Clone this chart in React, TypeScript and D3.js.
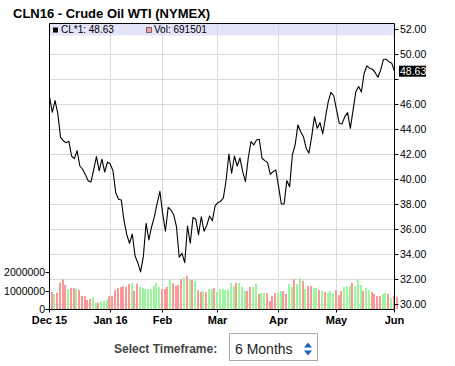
import React, { useRef, useEffect } from "react";
import * as d3 from "d3";

// month labels sit on the first trading day of each month (index into closes)
const monthLabels = ["Dec 15", "Jan 16", "Feb", "Mar", "Apr", "May", "Jun"];
const monthStarts = [0, 22, 41, 61, 83, 104, 125];

// daily settlement, CLN16
const closes = [
  46.6, 45.35, 46.28, 45.27, 43.35, 43.08, 42.92, 43.04, 41.86, 41.65,
  42.28, 41.06, 40.8, 40.37, 39.89, 39.78, 40.74, 41.81, 40.69, 41.6,
  40.58, 41.38, 41.22, 40.69, 38.93, 38.4, 38.35, 36.69, 35.58, 34.89,
  35.63, 33.87, 33.34, 32.6, 33.82, 36.49, 35.15, 36.21, 37.01, 38.08,
  39.04, 37.28, 35.85, 37.76, 37.55, 37.17, 36.21, 33.77, 34.09, 33.34,
  36.27, 34.89, 36.96, 36.81, 35.58, 37.01, 35.85, 36.33, 37.07, 36.69,
  37.87, 38.13, 38.24, 38.51, 39.94, 42.02, 40.48, 41.86, 41.06, 41.7,
  40.61, 39.81, 41.68, 43.0, 42.74, 43.14, 43.2, 41.68, 41.49, 41.33,
  40.4, 40.61, 40.74, 39.41, 38.03, 38.03, 39.89, 39.41, 41.94, 42.74,
  44.34, 43.8, 43.4, 42.48, 42.08, 43.4, 45.0, 44.07, 44.52, 43.62,
  44.95, 46.2, 46.95, 46.65, 45.54, 44.47, 44.42, 45.0, 45.32, 44.07,
  45.54, 47.0, 47.4, 46.97, 48.47, 49.05, 48.87, 48.79, 48.51, 48.15,
  48.73, 49.58, 49.58, 49.39, 49.27, 48.63,
];

const volumes = [
  950000, 840000, 890000, 1450000, 1640000, 1330000, 1110000, 1160000, 1160000, 1110000,
  1050000, 730000, 730000, 510000, 560000, 670000, 350000, 360000, 420000, 450000,
  510000, 730000, 730000, 1050000, 1160000, 1220000, 1270000, 1220000, 1380000, 1440000,
  1000000, 1400000, 1220000, 1160000, 1110000, 1110000, 1110000, 1270000, 1450000, 1220000,
  1110000, 1110000, 1220000, 1620000, 1420000, 1270000, 1330000, 1650000, 1760000, 1840000,
  1600000, 1600000, 1550000, 1050000, 950000, 1000000, 950000, 1110000, 1110000, 1160000,
  950000, 1110000, 1090000, 1050000, 1090000, 1440000, 1270000, 1440000, 1440000, 1220000,
  1000000, 1000000, 1220000, 1220000, 1380000, 840000, 890000, 890000, 890000, 450000,
  730000, 890000, 890000, 1000000, 1000000, 840000, 1380000, 1220000, 1650000, 1380000,
  1710000, 1550000, 1110000, 1270000, 1270000, 1160000, 1180000, 1050000, 1000000, 950000,
  890000, 1000000, 890000, 1050000, 780000, 1000000, 1220000, 1270000, 1270000, 1440000,
  1270000, 1620000, 1330000, 1000000, 1160000, 1050000, 950000, 840000, 730000, 730000,
  840000, 890000, 840000, 620000, 730000, 691501,
];

// bar colour per day: g = green, r = red
const volColors = (
  "rgrrrrgrrg" + "rrrrrggrgg" + "grrrrrrrrg" + "rrgggggggg" + "rrrgrrrrgr" +
  "grgrrgrggr" + "gggggggrgg" + "grrggrggrr" + "rrggrrggrg" + "grgrrggrgr" +
  "gggrrrgggr" + "gggrggrrrr" + "ggrgrr"
).split("");

const priceTicks = [30, 32, 34, 36, 38, 40, 42, 44, 46, 48, 50, 52];
const volTicks = [0, 1000000, 2000000];

const W = 455;
const H = 366;
const left = 49.5;
const right = 394.5;
const top = 23.5;
const bottom = 309.5;
const sans = "Arial, 'Liberation Sans', sans-serif";

const CrudeChart: React.FC = () => {
  const ref = useRef<SVGSVGElement | null>(null);

  useEffect(() => {
    const svg = d3.select(ref.current);
    svg.selectAll("*").remove();

    const x = d3.scaleLinear().domain([0, closes.length - 1]).range([left, right]);
    const y = d3.scaleLinear().domain([30, 52]).range([304.5, 29]);
    const yv = d3.scaleLinear().domain([0, 2000000]).range([309.3, 272.7]);
    const crisp = (v: number) => Math.round(v - 0.5) + 0.5;
    const last = closes[closes.length - 1];

    svg.append("rect").attr("width", W).attr("height", H).attr("fill", "#fff");

    // title
    svg
      .append("text")
      .attr("x", 13)
      .attr("y", 18)
      .attr("font-family", sans)
      .attr("font-weight", "bold")
      .attr("font-size", 13)
      .attr("fill", "#000")
      .text("CLN16 - Crude Oil WTI (NYMEX)");

    // legend band
    svg
      .append("rect")
      .attr("x", left)
      .attr("y", top)
      .attr("width", right - left)
      .attr("height", 12)
      .attr("fill", "#e3e3fa");

    // grid
    const grid = svg.append("g").attr("stroke", "#d9d9d9").attr("stroke-width", 1);
    grid
      .selectAll("line.h")
      .data(priceTicks.filter((t) => t < 52))
      .enter()
      .append("line")
      .attr("x1", left)
      .attr("x2", right)
      .attr("y1", (d) => crisp(y(d)))
      .attr("y2", (d) => crisp(y(d)));
    grid
      .selectAll("line.v")
      .data(monthStarts.slice(1, -1))
      .enter()
      .append("line")
      .attr("x1", (d) => crisp(x(d)))
      .attr("x2", (d) => crisp(x(d)))
      .attr("y1", top)
      .attr("y2", bottom);

    // volume bars
    svg
      .append("g")
      .selectAll("rect")
      .data(volumes)
      .enter()
      .append("rect")
      .attr("x", (d, i) => Math.round(x(i)) + 1)
      .attr("width", 2)
      .attr("y", (d) => yv(d))
      .attr("height", (d) => 309 - yv(d))
      .attr("fill", (d, i) => (volColors[i] === "g" ? "#9cf79c" : "#fb9999"));

    // price line
    const line = d3
      .line<number>()
      .x((d, i) => x(i))
      .y((d) => y(d));
    svg
      .append("path")
      .datum(closes)
      .attr("d", line)
      .attr("fill", "none")
      .attr("stroke", "#000")
      .attr("stroke-width", 1.1)
      .attr("stroke-linejoin", "round");

    // frame
    const frame = svg.append("g").attr("stroke", "#000").attr("stroke-width", 1);
    frame.append("line").attr("x1", left).attr("x2", right).attr("y1", top).attr("y2", top);
    frame.append("line").attr("x1", left).attr("x2", right).attr("y1", bottom).attr("y2", bottom);
    frame.append("line").attr("x1", left).attr("x2", left).attr("y1", top).attr("y2", bottom);
    frame.append("line").attr("x1", right).attr("x2", right).attr("y1", top).attr("y2", bottom);

    // right price axis; a label too close to the last-price box is hidden
    const ra = svg.append("g");
    priceTicks.forEach((t) => {
      const yy = crisp(y(t));
      ra.append("line").attr("x1", right).attr("x2", right + 4).attr("y1", yy).attr("y2", yy).attr("stroke", "#000");
      if (Math.abs(y(t) - y(last)) < 11) return;
      ra.append("text")
        .attr("x", 400)
        .attr("y", yy)
        .attr("dy", "0.36em")
        .attr("font-family", sans)
        .attr("font-size", 10.5)
        .attr("fill", "#000")
        .text(t.toFixed(2));
    });
    ra.append("rect").attr("x", 399).attr("y", y(last) - 5.5).attr("width", 27).attr("height", 11).attr("fill", "#000");
    ra.append("text")
      .attr("x", 400)
      .attr("y", y(last))
      .attr("dy", "0.36em")
      .attr("font-family", sans)
      .attr("font-size", 10.5)
      .attr("fill", "#fff")
      .text(last.toFixed(2));

    // left volume axis
    const la = svg.append("g");
    volTicks.forEach((t) => {
      const yy = crisp(yv(t));
      la.append("line").attr("x1", left - 4).attr("x2", left).attr("y1", yy).attr("y2", yy).attr("stroke", "#000");
      la.append("text")
        .attr("x", 45)
        .attr("y", yy)
        .attr("dy", "0.36em")
        .attr("text-anchor", "end")
        .attr("font-family", sans)
        .attr("font-size", 10.5)
        .attr("fill", "#000")
        .text(String(t));
    });

    // bottom month axis
    const ba = svg.append("g");
    monthStarts.forEach((m, k) => {
      const xx = crisp(x(m));
      ba.append("line").attr("x1", xx).attr("x2", xx).attr("y1", bottom).attr("y2", bottom + 3).attr("stroke", "#000");
      ba.append("text")
        .attr("x", xx)
        .attr("y", 324)
        .attr("text-anchor", "middle")
        .attr("font-family", sans)
        .attr("font-weight", "bold")
        .attr("font-size", 11)
        .attr("fill", "#000")
        .text(monthLabels[k]);
    });

    // legend entries
    const lg = svg.append("g").attr("font-family", sans).attr("font-size", 10).attr("fill", "#000");
    lg.append("rect").attr("x", 53).attr("y", 27.5).attr("width", 5).attr("height", 5).attr("fill", "#000");
    lg.append("text").attr("x", 61).attr("y", 33).text(`CL*1: ${last.toFixed(2)}`);
    lg.append("rect")
      .attr("x", 146.5)
      .attr("y", 27.5)
      .attr("width", 5)
      .attr("height", 5)
      .attr("fill", "#fb9999")
      .attr("stroke", "#555")
      .attr("stroke-width", 0.8);
    lg.append("text").attr("x", 154).attr("y", 33).text(`Vol: ${volumes[volumes.length - 1]}`);

    // timeframe picker
    svg
      .append("text")
      .attr("x", 114)
      .attr("y", 353)
      .attr("font-family", sans)
      .attr("font-weight", "bold")
      .attr("font-size", 12)
      .attr("fill", "#444")
      .text("Select Timeframe:");
    svg
      .append("rect")
      .attr("x", 229.5)
      .attr("y", 333.5)
      .attr("width", 88)
      .attr("height", 27)
      .attr("fill", "#fff")
      .attr("stroke", "#a9a9a9");
    svg
      .append("text")
      .attr("x", 235)
      .attr("y", 354)
      .attr("font-family", sans)
      .attr("font-size", 14)
      .attr("fill", "#222")
      .text("6 Months");
    svg.append("path").attr("d", "M304,347.5 L308,342.5 L312,347.5 Z").attr("fill", "#1f5fbf");
    svg.append("path").attr("d", "M304,350.5 L308,355.5 L312,350.5 Z").attr("fill", "#1f5fbf");
  }, []);

  return (
    <svg
      ref={ref}
      width={W}
      height={H}
      style={{ position: "absolute", left: 0, top: 0, display: "block" }}
    />
  );
};

export default function App() {
  return <CrudeChart />;
}
